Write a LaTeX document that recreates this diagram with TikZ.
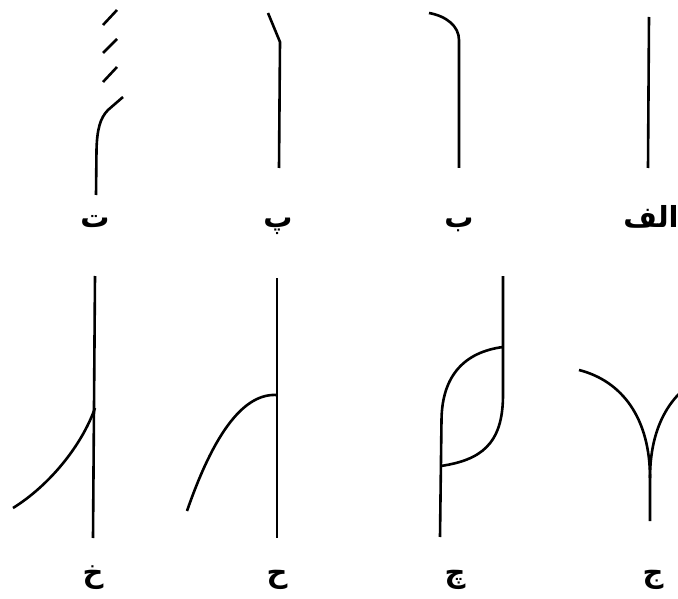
\documentclass[tikz,border=0pt]{standalone}
\usepackage{fontspec}
\newfontfamily\arabicfont[Script=Arabic]{DejaVu Sans}
\TeXXeTstate=1
\begin{document}
\begin{tikzpicture}[x=1pt,y=-1pt,
  stroke/.style={line width=2.6pt},
  lbl/.style={font=\arabicfont\bfseries\fontsize{29}{33}\selectfont, anchor=base, inner sep=0pt}]
\useasboundingbox (0,0) rectangle (678,599);
\clip (0,0) rectangle (678,599);
\fill[white] (0,0) rectangle (678,599);
% top row
% te
\draw[stroke] (117,10) -- (103,25);
\draw[stroke] (117,39) -- (103,53);
\draw[stroke] (117,67) -- (103,82);
\draw[stroke] (123,97) -- (108,110) .. controls (100,118) and (97,130) .. (96.5,150) -- (96,195);
% pe
\draw[stroke] (268,13) -- (280,42) -- (279,168);
% be
\draw[stroke] (429,13) .. controls (446,16) and (459,26) .. (459,40) -- (459,168);
% alef
\draw[stroke] (649,17) -- (648,168);
% bottom row
% khe
\draw[stroke] (95,276) -- (93,538);
\draw[stroke] (95,408) .. controls (82,445) and (50,485) .. (13,508);
% he
\draw[stroke] (277,278) -- (277,538);
\draw[stroke] (277,395) .. controls (245,393) and (215,430) .. (187,511);
% che
\draw[stroke] (503,276) -- (503,395) .. controls (503,445) and (480,460) .. (441,466);
\draw[stroke] (440,537) -- (441.5,420) .. controls (442,375) and (465,352) .. (503,347);
% jim
\draw[stroke] (579,370) .. controls (622,381) and (650,418) .. (650,478) -- (650,521);
\draw[stroke] (650,478) .. controls (650,418) and (678,381) .. (721,370);
% labels
\node[lbl] (lte) at (95,227) {\beginR ت\endR};
\node[lbl] (lpe) at (278,227) {\beginR پ\endR};
\node[lbl] (lbe) at (459,227) {\beginR ب\endR};
\node[lbl] (lalef) at (651,227) {\beginR الف\endR};
\node[lbl] (lkhe) at (93,582) {\beginR خ\endR};
\node[lbl] (lhe) at (277,582) {\beginR ح\endR};
\node[lbl] (lche) at (455,582) {\beginR چ\endR};
\node[lbl] (ljim) at (653,582) {\beginR ج\endR};
\end{tikzpicture}
\end{document}
